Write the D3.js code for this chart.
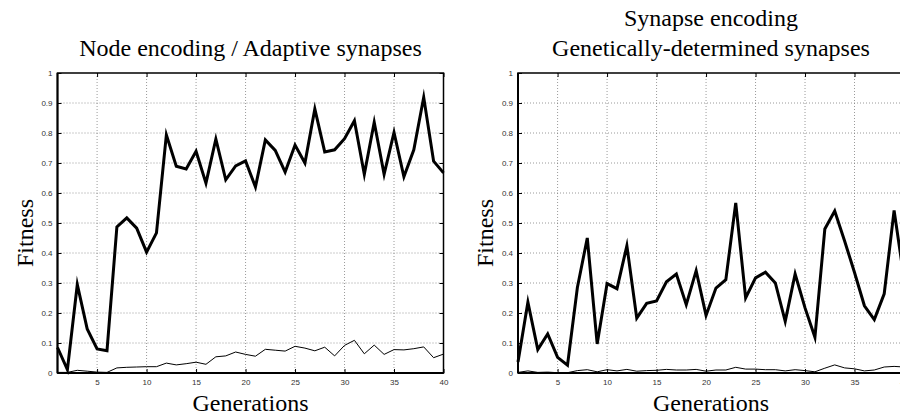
<!DOCTYPE html>
<html>
<head>
<meta charset="utf-8">
<script src="https://cdn.jsdelivr.net/npm/d3@7"></script>
<style>
  html, body { margin: 0; padding: 0; background: #fff; overflow: hidden; }
  svg { display: block; }
</style>
</head>
<body>
<svg id="chart" width="900" height="417"></svg>
<script>
// Generations along the x axis
const generations = [1, 2, 3, 4, 5, 6, 7, 8, 9, 10, 11, 12, 13, 14, 15, 16, 17, 18, 19, 20,
  21, 22, 23, 24, 25, 26, 27, 28, 29, 30, 31, 32, 33, 34, 35, 36, 37, 38, 39, 40];

// Axis ticks
const xTicks = [5, 10, 15, 20, 25, 30, 35, 40];
const yTicks = [0, 0.1, 0.2, 0.3, 0.4, 0.5, 0.6, 0.7, 0.8, 0.9, 1];
const yTickLabels = ["0", "0.1", "0.2", "0.3", "0.4", "0.5", "0.6", "0.7", "0.8", "0.9", "1"];

// Node encoding / adaptive synapses: best and average fitness per generation
const nodeBest = [0.085, 0.011, 0.295, 0.147, 0.080, 0.074, 0.487, 0.517, 0.483, 0.403,
  0.467, 0.794, 0.689, 0.680, 0.739, 0.633, 0.780, 0.644, 0.690, 0.707,
  0.620, 0.777, 0.742, 0.670, 0.760, 0.700, 0.880, 0.737, 0.744, 0.781,
  0.841, 0.662, 0.836, 0.662, 0.802, 0.654, 0.744, 0.919, 0.706, 0.667];
const nodeAverage = [0.002, 0.002, 0.009, 0.006, 0.003, 0.002, 0.017, 0.019, 0.020, 0.021,
  0.021, 0.033, 0.027, 0.031, 0.036, 0.029, 0.054, 0.057, 0.070, 0.062,
  0.056, 0.079, 0.076, 0.073, 0.089, 0.083, 0.074, 0.086, 0.057, 0.092,
  0.109, 0.064, 0.093, 0.062, 0.078, 0.077, 0.081, 0.087, 0.051, 0.063];

// Synapse encoding / genetically-determined synapses
const synapseBest = [0.037, 0.236, 0.078, 0.130, 0.052, 0.026, 0.285, 0.450, 0.097, 0.298,
  0.281, 0.424, 0.183, 0.232, 0.240, 0.304, 0.330, 0.228, 0.341, 0.192,
  0.283, 0.311, 0.567, 0.250, 0.317, 0.336, 0.300, 0.172, 0.330, 0.217,
  0.119, 0.480, 0.540, 0.440, 0.335, 0.224, 0.178, 0.264, 0.542, 0.315];
const synapseAverage = [0.002, 0.007, 0.002, 0.003, 0.001, 0.001, 0.008, 0.011, 0.004, 0.011,
  0.007, 0.012, 0.006, 0.008, 0.009, 0.012, 0.010, 0.010, 0.012, 0.006,
  0.010, 0.010, 0.019, 0.013, 0.013, 0.011, 0.011, 0.007, 0.011, 0.008,
  0.004, 0.016, 0.027, 0.017, 0.014, 0.007, 0.010, 0.020, 0.022, 0.020];

const nodeTitle = ["Node encoding / Adaptive synapses"];
const synapseTitle = ["Synapse encoding", "Genetically-determined synapses"];

const svg = d3.select("#chart");
const serif = "'Liberation Serif', 'Times New Roman', serif";
const sans = "'Liberation Sans', Arial, sans-serif";
const labelSize = 24;

const plotTop = 73, plotW = 386, plotH = 300;

const panels = [
  { left: 57.5, title: nodeTitle, best: nodeBest, average: nodeAverage },
  { left: 518, title: synapseTitle, best: synapseBest, average: synapseAverage }
];

panels.forEach(p => {
  const g = svg.append("g").attr("transform", `translate(${p.left},${plotTop})`);
  const x = d3.scaleLinear().domain([1, 40]).range([0, plotW]);
  const y = d3.scaleLinear().domain([0, 1]).range([plotH, 0]);

  // dotted grid
  g.append("g").selectAll("line").data(xTicks.filter(t => t < 40)).join("line")
    .attr("x1", d => x(d)).attr("x2", d => x(d)).attr("y1", 0).attr("y2", plotH)
    .attr("stroke", "#808080").attr("stroke-width", 0.8).attr("stroke-dasharray", "1,2");
  g.append("g").selectAll("line").data(yTicks.filter(t => t > 0 && t < 1)).join("line")
    .attr("x1", 0).attr("x2", plotW).attr("y1", d => y(d)).attr("y2", d => y(d))
    .attr("stroke", "#808080").attr("stroke-width", 0.8).attr("stroke-dasharray", "1,2");

  // axes with inward ticks
  const styleAxis = sel => {
    sel.select(".domain").remove();
    sel.selectAll(".tick line").attr("stroke", "#000").attr("stroke-width", 1);
    sel.selectAll(".tick text").attr("font-family", sans).attr("font-size", 8).attr("fill", "#333");
  };
  g.append("g").attr("transform", `translate(0,${plotH})`)
    .call(d3.axisBottom(x).tickValues(xTicks).tickSize(-4).tickPadding(6).tickFormat(d3.format("d")))
    .call(styleAxis);
  g.append("g")
    .call(d3.axisLeft(y).tickValues(yTicks).tickSize(-4).tickPadding(5).tickFormat((d, i) => yTickLabels[i]))
    .call(styleAxis);
  g.append("g")
    .call(d3.axisTop(x).tickValues(xTicks).tickSize(-4).tickFormat(""))
    .call(styleAxis);
  g.append("g").attr("transform", `translate(${plotW},0)`)
    .call(d3.axisRight(y).tickValues(yTicks).tickSize(-4).tickFormat(""))
    .call(styleAxis);

  // frame
  g.append("rect").attr("x", 0).attr("y", 0).attr("width", plotW).attr("height", plotH)
    .attr("fill", "none").attr("stroke", "#000").attr("stroke-width", 1.5);
  g.append("line").attr("x1", 0).attr("x2", 0).attr("y1", 0).attr("y2", plotH)
    .attr("stroke", "#000").attr("stroke-width", 2);
  g.append("line").attr("x1", 0).attr("x2", plotW).attr("y1", plotH).attr("y2", plotH)
    .attr("stroke", "#000").attr("stroke-width", 2);

  // series
  const line = d3.line().x((d, i) => x(generations[i])).y(d => y(d));
  g.append("path").datum(p.average).attr("d", line)
    .attr("fill", "none").attr("stroke", "#000").attr("stroke-width", 1);
  g.append("path").datum(p.best).attr("d", line)
    .attr("fill", "none").attr("stroke", "#000").attr("stroke-width", 3)
    .attr("stroke-linejoin", "miter").attr("stroke-miterlimit", 6);

  // title
  const cx = plotW / 2;
  const n = p.title.length;
  p.title.forEach((t, i) => {
    g.append("text").attr("x", cx).attr("y", -17 - (n - 1 - i) * 30)
      .attr("text-anchor", "middle").attr("font-family", serif).attr("font-size", labelSize)
      .attr("fill", "#000").text(t);
  });

  // axis labels
  g.append("text").attr("x", cx).attr("y", plotH + 38)
    .attr("text-anchor", "middle").attr("font-family", serif).attr("font-size", labelSize)
    .attr("fill", "#000").text("Generations");
  g.append("text").attr("transform", `translate(-25,${plotH / 2 + 10}) rotate(-90)`)
    .attr("text-anchor", "middle").attr("font-family", serif).attr("font-size", labelSize)
    .attr("fill", "#000").text("Fitness");
});
</script>
</body>
</html>
